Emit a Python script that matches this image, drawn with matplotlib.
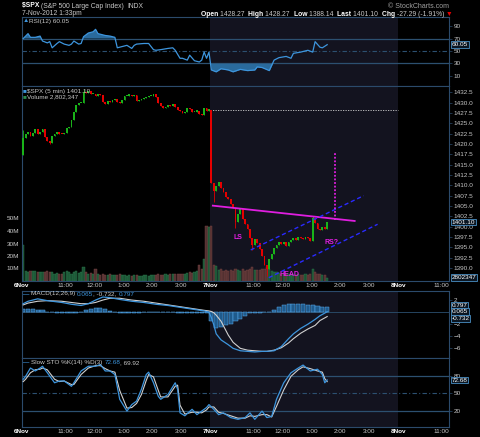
"""
Gráfico intradía de $SPX (velas de 5 minutos) con RSI, volumen, MACD y
estocástico lento, al estilo de StockCharts.
"""

import matplotlib
matplotlib.use("Agg")
import matplotlib.pyplot as plt
import numpy as np

plt.rcParams['font.family'] = ['Liberation Sans', 'DejaVu Sans']

# ---------------------------------------------------------------------------
# Datos (barras de 5 minutos; 6-nov = 0..77, 7-nov = 78..)
# ---------------------------------------------------------------------------
apertura_inicial = 1417.3
apertura_dia2 = 1428.27
cierre_previo = 1428.3

cierres_dia1 = [
    1421.5, 1422.5, 1423.0, 1422.0, 1422.6, 1423.6, 1422.4, 1422.9, 1423.5, 1421.8,
    1420.8, 1420.3, 1422.0, 1422.4, 1422.8, 1422.5, 1422.3, 1422.6, 1423.8, 1424.0,
    1425.8, 1427.6, 1429.4, 1429.8, 1430.0, 1432.6, 1432.2, 1432.9, 1432.0, 1432.1,
    1431.6, 1432.0, 1431.8, 1430.1, 1429.7, 1430.4, 1430.1, 1430.6, 1430.9, 1430.2,
    1429.9, 1430.6, 1431.5, 1431.7, 1431.9, 1431.6, 1431.8, 1430.4, 1430.6, 1430.9,
    1431.0, 1431.3, 1431.5, 1431.7, 1432.0, 1431.4, 1429.8, 1429.1, 1428.6, 1428.9,
    1429.5, 1429.2, 1429.6, 1429.0, 1428.2, 1427.9, 1427.4, 1427.6, 1428.7, 1428.4,
    1427.6, 1427.8, 1428.0, 1427.2, 1426.9, 1428.6, 1428.0, 1428.4,
]
cierres_dia2 = [
    1410.5, 1408.6, 1409.8, 1410.8, 1409.4, 1408.3, 1407.3, 1406.6, 1405.6, 1404.6,
    1401.2, 1403.0, 1404.4, 1401.8, 1400.6, 1399.4, 1397.4, 1395.6, 1397.0, 1396.0,
    1394.6, 1393.0, 1390.8, 1389.8, 1392.3, 1393.5, 1394.8, 1395.5, 1396.2, 1395.8,
    1396.3, 1395.3, 1396.2, 1396.8, 1397.2, 1396.9, 1397.6, 1397.2, 1397.0, 1397.6,
    1397.3, 1396.5, 1402.1, 1400.8, 1399.4, 1399.1, 1399.9, 1399.4, 1401.1,
]
mecha_alta_barras = [0, 25, 120]
mecha_alta_valores = [1423.3, 1433.38, 1402.6]
mecha_baja_barras = [11, 79, 88, 95, 101]
mecha_baja_valores = [1419.9, 1405.9, 1399.8, 1394.4, 1388.14]

# volumen en millones
volumen = [
    29, 8, 7, 8, 8, 8, 7.5, 7.5, 7, 7.5,
    8, 7, 7.5, 6, 6.5, 5.5, 6, 7, 8, 7,
    6, 7, 8, 6.5, 7, 11.5, 7, 6, 6.5, 5.5,
    9.5, 6, 5, 5.5, 5, 5, 6, 5, 4.5, 5,
    5.5, 5, 4.5, 4, 5, 4, 4.5, 5, 4, 4,
    5, 4.5, 4, 5, 4.5, 5, 5.5, 5, 4.5, 5.5,
    5, 6, 5.5, 6, 5.5, 6, 5.5, 6, 6.5, 7,
    6.5, 7, 8, 12.5, 10, 18, 44, 43,
    44, 13, 12, 9, 10, 8, 9, 8, 9, 8,
    10, 9, 8, 9.5, 8, 9, 10, 11, 9, 8.5,
    9, 10, 10, 11, 9.5, 8, 7.5, 7, 6.5, 6,
    6.5, 6, 5.5, 6, 5.5, 5, 5.5, 5, 5, 5.5,
    5, 5.5, 9.5, 7, 6, 5.5, 5, 4.5, 2.8,
]

rsi_barras = [0, 2, 3, 5, 7, 8, 10, 11, 12, 14, 15, 17, 19, 20, 21, 23, 24, 25, 27, 29,
              30, 31, 34, 36, 38, 39, 41, 42, 43, 45, 46, 47, 50, 52, 54, 55, 57, 60, 62, 63,
              65, 66, 68, 69, 71, 73, 74, 75, 76, 77, 78, 80, 82, 85, 87, 90, 93, 96, 97, 99,
              102, 104, 106, 109, 111, 112, 115, 118, 120, 121, 123, 124, 126]
rsi_valores = [70, 78, 72, 72, 74, 66, 63, 65, 55, 62, 65, 61, 59, 61, 66, 61, 62, 73, 79, 81,
               85, 78, 75, 74, 72, 55, 57, 58, 59, 54, 59, 61, 62, 62, 52, 51, 52, 54, 55, 51,
               38, 38, 35, 43, 34, 32, 35, 48, 38, 48, 19, 16, 21, 19, 16, 20, 18, 19, 24, 23,
               18, 35, 39, 41, 38, 46, 48, 51, 48, 65, 56, 55, 60.05]

macd_barras = [0, 2, 6, 10, 16, 20, 24, 27, 30, 33, 36, 40, 45, 50, 55, 60, 65, 70, 75, 77,
               78, 79, 80, 82, 85, 87, 90, 93, 96, 99, 101, 104, 107, 110, 112, 115, 118, 121,
               123, 126]
macd_linea = [1.4, 1.8, 2.2, 1.9, 1.6, 1.3, 1.1, 1.4, 2.0, 2.5, 2.4, 2.1, 1.8, 1.6, 1.3, 1.1,
              0.8, 0.5, 0.2, 0.0, -0.9, -2.1, -3.6, -4.6, -5.4, -6.0, -6.4, -6.5, -6.6, -6.5,
              -6.5, -6.4, -5.7, -4.4, -3.6, -2.7, -2.0, -1.2, -0.6, 0.065]
macd_senal = [1.2, 1.5, 1.8, 1.9, 1.8, 1.6, 1.4, 1.4, 1.6, 2.0, 2.3, 2.3, 2.0, 1.8, 1.5, 1.2,
              0.9, 0.6, 0.3, 0.2, 0.1, -0.1, -0.5, -1.5, -3.8, -5.0, -6.0, -6.3, -6.4, -6.5,
              -6.5, -6.3, -5.9, -5.1, -4.4, -3.5, -2.8, -2.2, -1.4, -0.732]
# histograma cada dos barras (0, 2, ..., 126)
macd_histograma = [0.5, 0.5, 0.5, 0.4, 0.3, 0.1, 0.0, -0.1, -0.1, -0.2, -0.2, -0.1, 0.1, 0.3,
                   0.5, 0.7, 0.7, 0.5, 0.2, 0.0, -0.1, -0.2, -0.2, -0.1, -0.1, 0.0, 0.0, 0.1,
                   0.1, 0.0, 0.0, 0.0, -0.1, -0.1, -0.1, -0.1, -0.1, -0.1, -0.1,
                   -1.5, -2.6, -2.5, -2.2, -1.9, -1.5, -1.1, -0.6, -0.2, -0.1, -0.1, 0.0, 0.1,
                   0.4, 0.9, 1.2, 1.3, 1.3, 1.3, 1.3, 1.25, 1.15, 1.0, 0.9, 0.797]

sto_barras = [0, 1, 3, 5, 7, 8, 10, 13, 15, 17, 20, 21, 24, 27, 30, 32, 34, 36, 38, 40,
              43, 45, 47, 49, 51, 52, 54, 56, 57, 60, 63, 64, 65, 67, 70, 72, 74, 76, 77, 79,
              81, 83, 86, 89, 92, 94, 96, 99, 101, 103, 105, 108, 111, 114, 116, 119, 122,
              124, 125, 126]
sto_k = [74, 79, 93, 88, 93, 96, 85, 68, 71, 71, 62, 68, 88, 96, 96, 99, 88, 88, 82, 40,
         20, 31, 37, 57, 82, 86, 68, 45, 40, 48, 68, 57, 17, 12, 23, 14, 20, 26, 31, 23,
         14, 17, 9, 6, 9, 17, 6, 20, 9, 11, 40, 68, 85, 93, 98, 88, 91, 82, 68, 72.68]
sto_d = [70, 74, 85, 90, 91, 93, 90, 74, 70, 71, 65, 65, 82, 93, 97, 97, 92, 88, 86, 55,
         25, 26, 33, 48, 72, 82, 78, 55, 44, 44, 62, 64, 30, 15, 18, 18, 17, 22, 27, 27,
         18, 16, 12, 8, 8, 12, 11, 14, 14, 10, 28, 56, 79, 90, 95, 92, 88, 86, 75, 69.92]

# líneas dibujadas a mano sobre el gráfico (barra, precio)
linea_cuello = ([78.6, 137.4], [1405.1, 1401.4])
canal_superior = ([94.3, 141.1], [1394.4, 1407.5])
canal_inferior = ([101.8, 146.9], [1387.7, 1400.6])
objetivo_barra = 129.1
objetivo_precios = [1401.7, 1417.8]
rotulos_patron = [('LS', 89.0, 1397.5), ('HEAD', 110.5, 1388.5), ('RS?', 127.6, 1396.3)]

marcas_x = [0, 18, 30, 42, 54, 66, 78, 96, 108, 120, 132, 144, 156, 174]
rotulos_x = ['6Nov', '11:00', '12:00', '1:00', '2:00', '3:00', '7Nov',
             '11:00', '12:00', '1:00', '2:00', '3:00', '8Nov', '11:00']

# ---------------------------------------------------------------------------
ANCHO, ALTO = 480, 437
SOMBRA = '#13131f'
BORDE = '#2b4a6b'
REJILLA = '#2c5070'
TEXTO = '#c8c8c8'
AZUL = '#3d95dd'
BLANCO = '#d0d0d0'
VERDE = '#19b319'
ROJO = '#e60000'
MAGENTA = '#e01ee0'
TAM = 4.6


def rect(arriba, abajo):
    """Rectángulo de un panel a partir de sus bordes en píxeles."""
    return [22 / ANCHO, 1 - abajo / ALTO, 427 / ANCHO, (abajo - arriba) / ALTO]


def preparar_panel(ax, sombra=True):
    """Fondo, sombreado del día actual y estilo de bordes."""
    ax.set_facecolor('black')
    ax.set_xlim(-0.5, 176.5)
    if sombra:
        ax.axvspan(77.5, 155.5, color=SOMBRA, lw=0, zorder=0)
    for s in ax.spines.values():
        s.set_color(BORDE)
        s.set_linewidth(0.8)
    ax.tick_params(axis='x', length=0, labelbottom=False)
    ax.tick_params(axis='y', left=False, labelleft=False, right=True, labelright=True,
                   color=BORDE, labelcolor=TEXTO, labelsize=TAM, length=2, width=0.5,
                   pad=1.5)


def etiqueta_valor(ax, y, texto, dy=0):
    """Recuadro con el último valor junto al eje derecho."""
    ax.annotate(texto, xy=(1.006, y), xycoords=ax.get_yaxis_transform(),
                xytext=(0, dy), textcoords='offset points', fontsize=TAM,
                color='white', va='center', ha='left', annotation_clip=False, zorder=30,
                bbox=dict(boxstyle='square,pad=0.12', fc='#0b1622', ec='#4a8fc4', lw=0.6))


def rotulos_eje_x(ax):
    ax.set_xticks(np.array(marcas_x) - 0.5)
    ax.set_xticklabels(rotulos_x)
    ax.tick_params(axis='x', length=0, labelbottom=True, labelsize=TAM,
                   labelcolor=TEXTO, pad=1.2)
    for t in ax.get_xticklabels():
        if 'Nov' in t.get_text():
            t.set_fontweight('bold')
            t.set_color('white')


def texto_en_cadena(ax, x, y, partes, size=TAM):
    """Escribe trozos de texto uno detrás de otro (texto, color, peso)."""
    previo = None
    for texto, color, peso in partes:
        if previo is None:
            previo = ax.text(x, y, texto, color=color, fontweight=peso, fontsize=size,
                             va='center', ha='left')
        else:
            previo = ax.annotate(texto, xy=(1, 0.5), xycoords=previo, color=color,
                                 fontweight=peso, fontsize=size, va='center', ha='left')
    return previo


fig = plt.figure(figsize=(ANCHO / 100, ALTO / 100), dpi=100, facecolor='black')

ax_rsi = fig.add_axes(rect(17, 86))
ax_vol = fig.add_axes(rect(86, 281))
ax_px = ax_vol.twinx()
ax_macd = fig.add_axes(rect(291, 358))
ax_sto = fig.add_axes(rect(358, 427))

# --- RSI ---
preparar_panel(ax_rsi)
rsi_x = np.array(rsi_barras)
rsi_y = np.array(rsi_valores, dtype=float)
ax_rsi.set_ylim(-7, 105)
for nivel in (70, 30):
    ax_rsi.axhline(nivel, color=REJILLA, lw=0.9, zorder=1)
ax_rsi.axhline(50, color=REJILLA, lw=0.8, ls=(0, (4, 2, 1, 2)), zorder=1)
ax_rsi.fill_between(rsi_x, rsi_y, 70, where=rsi_y >= 70, interpolate=True,
                    color='#2a6a9c', lw=0, zorder=2)
ax_rsi.fill_between(rsi_x, rsi_y, 30, where=rsi_y <= 30, interpolate=True,
                    color='#2a6a9c', lw=0, zorder=2)
ax_rsi.plot(rsi_x, rsi_y, color=AZUL, lw=0.9, zorder=3)
ax_rsi.set_yticks([10, 30, 50, 70, 90])
etiqueta_valor(ax_rsi, rsi_valores[-1], f'{rsi_valores[-1]:.2f}')

# --- Precio y volumen ---
preparar_panel(ax_vol)
ax_vol.tick_params(axis='y', left=True, labelleft=True, right=False, labelright=False,
                   length=0, pad=2)
ax_px.set_xlim(-0.5, 176.5)
ax_px.patch.set_visible(False)
for s in ax_px.spines.values():
    s.set_visible(False)
ax_px.tick_params(axis='y', right=True, labelright=True, color=BORDE, labelcolor=TEXTO,
                  labelsize=TAM, length=2, width=0.5, pad=1.5)

cierres = np.array(cierres_dia1 + cierres_dia2)
x = np.arange(len(cierres))
aperturas = np.r_[apertura_inicial, cierres[:-1]]
aperturas[len(cierres_dia1)] = apertura_dia2
maximos = np.maximum(aperturas, cierres)
minimos = np.minimum(aperturas, cierres)
maximos[mecha_alta_barras] = np.maximum(maximos[mecha_alta_barras], mecha_alta_valores)
minimos[mecha_baja_barras] = np.minimum(minimos[mecha_baja_barras], mecha_baja_valores)
sube = cierres >= aperturas
colores = np.where(sube, VERDE, ROJO)

vol = np.array(volumen)
ax_vol.bar(x, vol, width=0.9, color=np.where(sube, '#1b5234', '#523030'),
           edgecolor=np.where(sube, '#2a7a4c', '#7a4444'), lw=0.3, zorder=2)
ax_vol.set_ylim(0, 156)
ax_vol.set_yticks([10, 20, 30, 40, 50])
ax_vol.set_yticklabels(['10M', '20M', '30M', '40M', '50M'])
rotulos_eje_x(ax_vol)
etiqueta_valor(ax_vol, volumen[-1], '2802347')

ax_px.vlines(x, minimos, maximos, colors=colores, lw=0.6, zorder=3)
cuerpo = np.maximum(np.abs(cierres - aperturas), 0.3)
ax_px.bar(x, cuerpo, bottom=np.minimum(aperturas, cierres), width=0.75, color=colores,
          lw=0, zorder=4)
ax_px.set_ylim(1386.9, 1434.0)
precios = np.arange(1390.0, 1433.0, 2.5)
ax_px.set_yticks(precios)
ax_px.set_yticklabels([f'{p:.1f}' for p in precios])

ax_px.hlines(cierre_previo, 77.5, 155.5, colors='#cfcfcf', lw=0.6,
             linestyles=(0, (1.5, 1.5)), zorder=2)
ax_px.plot(*linea_cuello, color=MAGENTA, lw=1.3, zorder=5)
ax_px.plot(*canal_superior, color='#2a2aff', lw=1.0, ls=(0, (3, 2)), zorder=5)
ax_px.plot(*canal_inferior, color='#2a2aff', lw=1.0, ls=(0, (3, 2)), zorder=5)
ax_px.vlines(objetivo_barra, *objetivo_precios, colors=MAGENTA, lw=1.3,
             linestyles=(0, (1, 1)), zorder=5)
for texto, bx, py in rotulos_patron:
    ax_px.text(bx, py, texto, color=MAGENTA, fontsize=5, fontweight='bold',
               ha='center', va='center', zorder=6)
etiqueta_valor(ax_px, cierres[-1], f'{cierres[-1]:.2f}')

# --- MACD ---
preparar_panel(ax_macd)
ax_macd.set_ylim(-7.6, 3.5)
ax_macd.axhline(0, color=REJILLA, lw=0.6, zorder=1)
hist_x = np.arange(0, 127, 2)
ax_macd.bar(hist_x, macd_histograma, width=1.7, color='#1f5a8c', edgecolor='#5aaef0',
            lw=0.35, zorder=2)
ax_macd.plot(macd_barras, macd_senal, color=BLANCO, lw=0.8, zorder=3)
ax_macd.plot(macd_barras, macd_linea, color=AZUL, lw=0.9, zorder=4)
ax_macd.set_yticks([2, -2, -4, -6])
etiqueta_valor(ax_macd, macd_histograma[-1], f'{macd_histograma[-1]:.3f}', dy=1.5)
etiqueta_valor(ax_macd, macd_linea[-1], f'{macd_linea[-1]:.3f}')
etiqueta_valor(ax_macd, macd_senal[-1], f'{macd_senal[-1]:.3f}', dy=-1.5)

# --- Estocástico lento ---
preparar_panel(ax_sto)
ax_sto.set_ylim(-7, 110)
for nivel in (80, 20):
    ax_sto.axhline(nivel, color=REJILLA, lw=0.9, zorder=1)
ax_sto.axhline(50, color=REJILLA, lw=0.8, ls=(0, (4, 2, 1, 2)), zorder=1)
ax_sto.plot(sto_barras, sto_d, color=BLANCO, lw=0.8, zorder=3)
ax_sto.plot(sto_barras, sto_k, color=AZUL, lw=0.9, zorder=4)
ax_sto.set_yticks([20, 50, 80])
rotulos_eje_x(ax_sto)
etiqueta_valor(ax_sto, sto_k[-1], f'{sto_k[-1]:.2f}')

# --- Textos en píxeles ---
ax_txt = fig.add_axes([0, 0, 1, 1], zorder=20)
ax_txt.set_xlim(0, ANCHO)
ax_txt.set_ylim(ALTO, 0)
ax_txt.axis('off')
ax_txt.patch.set_visible(False)

texto_en_cadena(ax_txt, 22, 6, [('$SPX ', 'white', 'bold'),
                                ('(S&P 500 Large Cap Index)  ', TEXTO, 'normal'),
                                ('INDX', TEXTO, 'normal')], size=4.9)
ax_txt.text(22, 13.5, '7-Nov-2012 1:33pm', color=TEXTO, fontsize=4.9, va='center')
texto_en_cadena(ax_txt, 201, 14, [('Open ', 'white', 'bold'), ('1428.27  ', TEXTO, 'normal'),
                                  ('High ', 'white', 'bold'), ('1428.27  ', TEXTO, 'normal'),
                                  ('Low ', 'white', 'bold'), ('1388.14  ', TEXTO, 'normal'),
                                  ('Last ', 'white', 'bold'), ('1401.10  ', TEXTO, 'normal'),
                                  ('Chg ', 'white', 'bold'), ('-27.29 (-1.91%) ', TEXTO, 'normal'),
                                  ('▼', ROJO, 'normal')], size=4.85)
ax_txt.text(449, 6, '© StockCharts.com', color='#a0a0a0', fontsize=5, ha='right', va='center')

texto_en_cadena(ax_txt, 23, 21, [('▲', AZUL, 'normal'), ('RSI(12) 60.05', TEXTO, 'normal')])
texto_en_cadena(ax_txt, 23, 91, [('■', AZUL, 'normal'),
                                 ('$SPX (5 min) 1401.10', TEXTO, 'normal')])
texto_en_cadena(ax_txt, 23, 97, [('■', '#2a8a4c', 'normal'),
                                 ('Volume 2,802,347', TEXTO, 'normal')])
texto_en_cadena(ax_txt, 23, 294, [('— ', AZUL, 'bold'), ('MACD(12,26,9) ', TEXTO, 'normal'),
                                  ('0.065', AZUL, 'normal'), (', -0.732, ', TEXTO, 'normal'),
                                  ('0.797', AZUL, 'normal')])
texto_en_cadena(ax_txt, 23, 362.5, [('— ', AZUL, 'bold'),
                                    ('Slow STO %K(14) %D(3) ', TEXTO, 'normal'),
                                    ('72.68', AZUL, 'normal'), (', 69.92', TEXTO, 'normal')])

fig.savefig('out.png', dpi=100, facecolor='black')
